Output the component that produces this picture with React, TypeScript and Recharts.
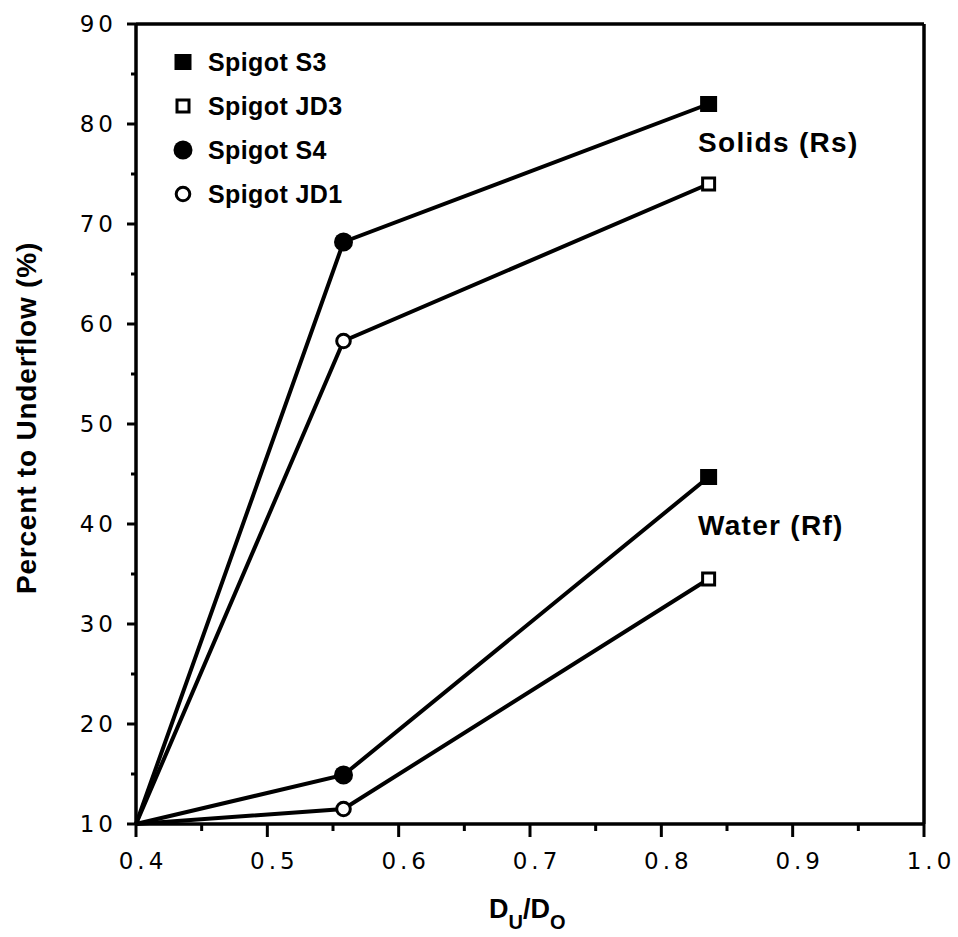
import React from "react";
import {
  LineChart,
  Line,
  XAxis,
  YAxis,
  ReferenceLine,
} from "recharts";

// D_u/D_o ratios shared by every series
const ratios = [0.4, 0.558, 0.836];
const solidsFilled = [10, 68.2, 82.0];
const solidsOpen = [10, 58.3, 74.0];
const waterFilled = [10, 14.9, 44.7];
const waterOpen = [10, 11.5, 34.5];
// marker used at each ratio (none at the common origin)
const markerShapes = ["none", "circle", "square"];

const xTicks = [0.4, 0.45, 0.5, 0.55, 0.6, 0.65, 0.7, 0.75, 0.8, 0.85, 0.9, 0.95, 1.0];
const yTicks = [10, 15, 20, 25, 30, 35, 40, 45, 50, 55, 60, 65, 70, 75, 80, 85, 90];

const legendItems = [
  { name: "Spigot S3", shape: "square", filled: true },
  { name: "Spigot JD3", shape: "square", filled: false },
  { name: "Spigot S4", shape: "circle", filled: true },
  { name: "Spigot JD1", shape: "circle", filled: false },
];

const rows = ratios.map((r, i) => ({
  x: r,
  sf: solidsFilled[i],
  so: solidsOpen[i],
  wf: waterFilled[i],
  wo: waterOpen[i],
}));

const tickFont = { fontFamily: "'DejaVu Sans', sans-serif", fontSize: 23, letterSpacing: 4 };
const boldFont = "'Liberation Sans', Arial, sans-serif";

const Marker = ({ shape, filled, cx, cy }: any) => {
  if (shape === "circle") {
    return filled ? (
      <circle cx={cx} cy={cy} r={9.5} fill="#000" />
    ) : (
      <circle cx={cx} cy={cy} r={6.8} fill="#fff" stroke="#000" strokeWidth={3} />
    );
  }
  if (shape === "square") {
    return filled ? (
      <rect x={cx - 8.5} y={cy - 8} width={17} height={16} fill="#000" />
    ) : (
      <rect x={cx - 6} y={cy - 6} width={12} height={12} fill="#fff" stroke="#000" strokeWidth={3} />
    );
  }
  return null;
};

const makeDot = (filled: boolean, key: string) => (props: any) => {
  const { cx, cy, index } = props;
  return (
    <g key={`${key}-${index}`}>
      <Marker shape={markerShapes[index]} filled={filled} cx={cx} cy={cy} />
    </g>
  );
};

const XTick = (props: any) => {
  const { x, y, payload } = props;
  const v = payload.value;
  const major = Math.round(v * 100) % 10 === 0;
  return (
    <g>
      <line x1={x} x2={x} y1={y} y2={y + (major ? 13 : 7)} stroke="#000" strokeWidth={3} />
      {major && (
        <text x={x + 7} y={y + 45} textAnchor="middle" fill="#000" style={tickFont}>
          {v.toFixed(1)}
        </text>
      )}
    </g>
  );
};

const YTick = (props: any) => {
  const { x, y, payload } = props;
  const v = payload.value;
  const major = v % 10 === 0;
  return (
    <g>
      <line x1={x - (major ? 9 : 5)} x2={x} y1={y} y2={y} stroke="#000" strokeWidth={3} />
      {major && (
        <text x={x - 19} y={y} dy="0.36em" textAnchor="end" fill="#000" style={tickFont}>
          {v}
        </text>
      )}
    </g>
  );
};

export default function App() {
  return (
    <div style={{ position: "absolute", left: 0, top: 0, width: 958, height: 937, background: "#fff" }}>
      <LineChart
        width={958}
        height={937}
        data={rows}
        margin={{ top: 24, right: 34, left: 76, bottom: 63 }}
      >
        <XAxis
          dataKey="x"
          type="number"
          domain={[0.4, 1.0]}
          ticks={xTicks}
          interval={0}
          height={50}
          tickSize={0}
          tickMargin={0}
          tickLine={false}
          tick={<XTick />}
          axisLine={{ stroke: "#000", strokeWidth: 3.5 }}
        />
        <YAxis
          type="number"
          domain={[10, 90]}
          ticks={yTicks}
          interval={0}
          width={60}
          tickSize={0}
          tickMargin={0}
          tickLine={false}
          tick={<YTick />}
          axisLine={{ stroke: "#000", strokeWidth: 3.5 }}
        />
        <ReferenceLine y={90} stroke="#000" strokeWidth={3.5} />
        <ReferenceLine x={1.0} stroke="#000" strokeWidth={3.5} />

        <Line dataKey="sf" stroke="#000" strokeWidth={4} isAnimationActive={false} dot={makeDot(true, "sf")} activeDot={false} />
        <Line dataKey="so" stroke="#000" strokeWidth={4} isAnimationActive={false} dot={makeDot(false, "so")} activeDot={false} />
        <Line dataKey="wf" stroke="#000" strokeWidth={4} isAnimationActive={false} dot={makeDot(true, "wf")} activeDot={false} />
        <Line dataKey="wo" stroke="#000" strokeWidth={4} isAnimationActive={false} dot={makeDot(false, "wo")} activeDot={false} />
      </LineChart>

      {/* labels, legend and annotations */}
      <svg width={958} height={937} style={{ position: "absolute", left: 0, top: 0, pointerEvents: "none" }}>
        {legendItems.map((item, i) => {
          const cy = 62 + i * 44;
          return (
            <g key={item.name}>
              <Marker shape={item.shape} filled={item.filled} cx={183} cy={cy} />
              <text x={208} y={cy + 9} fontFamily={boldFont} fontWeight="bold" fontSize={25} letterSpacing={0.4} fill="#000">
                {item.name}
              </text>
            </g>
          );
        })}
        <text x={698} y={152} fontFamily={boldFont} fontWeight="bold" fontSize={28} letterSpacing={1.3} fill="#000">
          Solids (Rs)
        </text>
        <text x={698} y={535} fontFamily={boldFont} fontWeight="bold" fontSize={28} letterSpacing={1.3} fill="#000">
          Water (Rf)
        </text>
        <text
          x={36}
          y={418}
          transform="rotate(-90 36 418)"
          textAnchor="middle"
          fontFamily={boldFont}
          fontWeight="bold"
          fontSize={28}
          letterSpacing={0.8}
          fill="#000"
        >
          Percent to Underflow (%)
        </text>
        <text x={489} y={918} fontFamily={boldFont} fontWeight="bold" fontSize={27} fill="#000">
          D
          <tspan fontSize={20} dy={11}>U</tspan>
          <tspan fontSize={27} dy={-11}>/D</tspan>
          <tspan fontSize={20} dy={11}>O</tspan>
        </text>
      </svg>
    </div>
  );
}
